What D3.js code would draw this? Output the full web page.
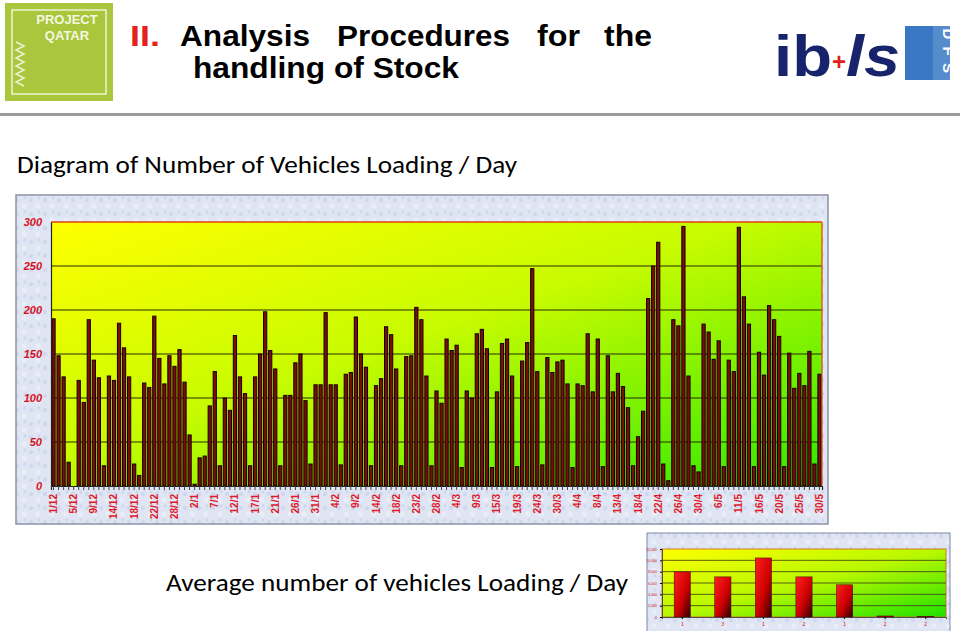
<!DOCTYPE html>
<html><head><meta charset="utf-8">
<script src="https://cdn.jsdelivr.net/npm/d3@7"></script>
<style>
html,body{margin:0;padding:0;background:#fff;}
svg{display:block;}
</style></head>
<body>
<svg id="chart" width="960" height="631"></svg>
<script>
// ---------- DATA ----------
const categories = [
"1/12","2/12","3/12","4/12","5/12","6/12","7/12","8/12","9/12","10/12","12/12","13/12",
"14/12","15/12","16/12","17/12","18/12","19/12","20/12","21/12","22/12","23/12","24/12","27/12",
"28/12","29/12","30/12","1/1","2/1","3/1","4/1","6/1","7/1","8/1","10/1","11/1",
"12/1","13/1","14/1","16/1","17/1","18/1","19/1","20/1","21/1","22/1","24/1","25/1",
"26/1","27/1","28/1","30/1","31/1","1/2","2/2","3/2","4/2","5/2","7/2","8/2",
"9/2","10/2","11/2","13/2","14/2","15/2","16/2","17/2","18/2","20/2","21/2","22/2",
"23/2","24/2","25/2","27/2","28/2","1/3","2/3","3/3","4/3","6/3","7/3","8/3",
"9/3","10/3","11/3","13/3","15/3","16/3","17/3","18/3","19/3","20/3","21/3","23/3",
"24/3","25/3","27/3","28/3","30/3","31/3","1/4","3/4","4/4","5/4","6/4","7/4",
"8/4","10/4","11/4","12/4","13/4","14/4","15/4","17/4","18/4","19/4","20/4","21/4",
"22/4","23/4","24/4","25/4","26/4","27/4","28/4","29/4","30/4","2/5","3/5","4/5",
"6/5","7/5","8/5","10/5","11/5","12/5","13/5","15/5","16/5","17/5","18/5","19/5",
"20/5","21/5","22/5","24/5","25/5","26/5","27/5","29/5","30/5"
];
const vehicles = [
190,148,124,27,0,120,95,189,143,123,23,125,
120,185,157,124,25,12,117,112,193,145,116,148,
136,155,118,58,2,32,34,91,130,23,100,86,
171,124,105,23,124,150,198,154,133,23,103,103,
140,150,97,25,115,115,197,115,115,24,127,129,
192,150,135,23,114,122,181,172,133,23,147,148,
203,189,125,23,108,94,167,154,160,21,108,100,
173,178,156,21,107,162,167,125,22,142,163,247,
130,24,146,129,141,143,116,21,116,114,173,107,
167,22,148,107,128,113,89,23,56,85,213,250,
277,25,6,189,182,295,125,23,16,184,175,144,
165,22,143,130,294,215,184,22,152,126,205,189,
170,22,151,111,128,114,153,25,127
];
const tickLabels = ["1/12","5/12","9/12","14/12","18/12","22/12","28/12","2/1","7/1","12/1",
"17/1","21/1","26/1","31/1","4/2","9/2","14/2","18/2","23/2","28/2","4/3","9/3","15/3",
"19/3","24/3","30/3","4/4","8/4","13/4","18/4","22/4","26/4","30/4","6/5","11/5","16/5",
"20/5","25/5","30/5"];
const yTicks = [0,50,100,150,200,250,300];

const avgLabels = ["1","3","1","2","1","2","2"];
const avgValues = [7960,7080,10420,7080,5680,180,100];
const avgTicks = [0,2000,4000,6000,8000,10000,12000];

// ---------- DRAW ----------
const svg = d3.select("#chart");
const defs = svg.append("defs");

const bgGrad = defs.append("linearGradient").attr("id","plotGrad")
  .attr("x1","0").attr("y1","0").attr("x2","1").attr("y2","1");
bgGrad.append("stop").attr("offset","0").attr("stop-color","#ffff00");
bgGrad.append("stop").attr("offset","0.45").attr("stop-color","#c8fb00");
bgGrad.append("stop").attr("offset","1").attr("stop-color","#2ee800");

const smallGrad = defs.append("linearGradient").attr("id","smallGrad")
  .attr("x1","0").attr("y1","0").attr("x2","1").attr("y2","1");
smallGrad.append("stop").attr("offset","0").attr("stop-color","#ffff00");
smallGrad.append("stop").attr("offset","0.5").attr("stop-color","#b8f800");
smallGrad.append("stop").attr("offset","1").attr("stop-color","#20e000");

const barGrad = defs.append("linearGradient").attr("id","barGrad")
  .attr("x1","0").attr("y1","0").attr("x2","1").attr("y2","1");
barGrad.append("stop").attr("offset","0").attr("stop-color","#ff2020");
barGrad.append("stop").attr("offset","0.55").attr("stop-color","#d00000");
barGrad.append("stop").attr("offset","1").attr("stop-color","#300000");

const tex = defs.append("pattern").attr("id","tex").attr("patternUnits","userSpaceOnUse")
  .attr("width",14).attr("height",14);
tex.append("rect").attr("width",14).attr("height",14).attr("fill","#dfe5f3");
tex.append("circle").attr("cx",3).attr("cy",4).attr("r",2.2).attr("fill","#d0d8ee");
tex.append("circle").attr("cx",10).attr("cy",10).attr("r",2.6).attr("fill","#e9edf8");
tex.append("circle").attr("cx",11).attr("cy",2).attr("r",1.4).attr("fill","#cfd6ea");

// ----- header -----
const logo = svg.append("g");
logo.append("rect").attr("x",5).attr("y",3).attr("width",108).attr("height",98).attr("fill","#a9c63c");
logo.append("path").attr("d","M12 10 L106 10 L106 94 L12 94 Z").attr("fill","none").attr("stroke","#eef3d4").attr("stroke-width",1.5);
logo.append("path").attr("d","M16 42 L24 46 L16 50 L24 54 L16 58 L24 62 L16 66 L24 70 L16 74 L24 78 L16 82 L24 86")
  .attr("fill","none").attr("stroke","#eef3d4").attr("stroke-width",1.5);
logo.append("text").attr("x",67).attr("y",24).attr("text-anchor","middle")
  .attr("font-family","Liberation Sans Narrow, Liberation Sans, sans-serif").attr("font-weight","bold")
  .attr("font-size",13).attr("fill","#f4f7e0").text("PROJECT");
logo.append("text").attr("x",67).attr("y",40).attr("text-anchor","middle")
  .attr("font-family","Liberation Sans Narrow, Liberation Sans, sans-serif").attr("font-weight","bold")
  .attr("font-size",13).attr("fill","#f4f7e0").text("QATAR");

const titleFont = "Liberation Sans Narrow, Liberation Sans, Arial, sans-serif";
const titleWords = [
  {t:"II.", x:130, w:30, y:46, c:"#e4211b"},
  {t:"Analysis", x:180, w:130, y:46, c:"#000"},
  {t:"Procedures", x:337, w:173, y:46, c:"#000"},
  {t:"for", x:537, w:43, y:46, c:"#000"},
  {t:"the", x:604, w:48, y:46, c:"#000"},
  {t:"handling of Stock", x:193, w:266, y:78, c:"#000"}
];
svg.selectAll("text.title").data(titleWords).enter().append("text")
  .attr("class","title").attr("x",d=>d.x).attr("y",d=>d.y)
  .attr("font-family",titleFont).attr("font-weight","bold").attr("font-size",30)
  .attr("fill",d=>d.c).attr("textLength",d=>d.w).attr("lengthAdjust","spacingAndGlyphs")
  .text(d=>d.t);

// right logo
const rl = svg.append("g");
rl.append("text").attr("x",774).attr("y",76).attr("font-family","Liberation Sans, Arial, sans-serif")
  .attr("font-weight","bold").attr("font-size",58).attr("fill","#17236b")
  .attr("textLength",58).attr("lengthAdjust","spacingAndGlyphs").text("ib");
rl.append("text").attr("x",832).attr("y",70).attr("font-family","Liberation Sans, Arial, sans-serif")
  .attr("font-weight","bold").attr("font-size",24).attr("fill","#e02020").text("+");
rl.append("text").attr("x",846).attr("y",76).attr("font-family","Liberation Sans, Arial, sans-serif")
  .attr("font-weight","bold").attr("font-style","italic").attr("font-size",58).attr("fill","#17236b")
  .attr("textLength",54).attr("lengthAdjust","spacingAndGlyphs").text("ls");
rl.append("rect").attr("x",905).attr("y",26).attr("width",45).attr("height",54).attr("fill","#3a78c4");
rl.append("rect").attr("x",933).attr("y",26).attr("width",17).attr("height",54).attr("fill","#ffffff").attr("opacity",0.15);
["D","F","S"].forEach((ch,i)=>{
  rl.append("text").attr("x",943).attr("y",34+i*17).attr("text-anchor","middle")
    .attr("transform",`rotate(90,943,${34+i*17})`)
    .attr("font-family","Liberation Sans, Arial, sans-serif").attr("font-weight","bold")
    .attr("font-size",15).attr("fill","#fff").text(ch);
});

svg.append("rect").attr("x",0).attr("y",113).attr("width",960).attr("height",3).attr("fill","#9a9a9a");

svg.append("text").attr("x",17).attr("y",173)
  .attr("font-family","Carlito, Lato, Open Sans, sans-serif").attr("font-size",24).attr("fill","#000")
  .attr("textLength",500).attr("lengthAdjust","spacingAndGlyphs")
  .text("Diagram of Number of Vehicles Loading / Day");

// ----- main chart -----
svg.append("rect").attr("x",16).attr("y",195).attr("width",812).attr("height",329)
  .attr("fill","url(#tex)").attr("stroke","#8d92a4").attr("stroke-width",1.5);

const m = {left:51, right:822, top:222, bottom:486};
const x = d3.scaleBand().domain(categories).range([m.left, m.right]).paddingInner(0.36).paddingOuter(0.18);
const y = d3.scaleLinear().domain([0,300]).range([m.bottom, m.top]);

svg.append("rect").attr("x",m.left).attr("y",m.top).attr("width",m.right-m.left).attr("height",m.bottom-m.top)
  .attr("fill","url(#plotGrad)");

// gridlines
svg.append("g").selectAll("line").data(yTicks.filter(t=>t>0 && t<300)).enter().append("line")
  .attr("x1",m.left).attr("x2",m.right).attr("y1",d=>y(d)).attr("y2",d=>y(d))
  .attr("stroke","#2a2a10").attr("stroke-width",1.2);

// bars
svg.append("g").selectAll("rect").data(vehicles).enter().append("rect")
  .attr("x",(d,i)=>x(categories[i]))
  .attr("width",x.bandwidth())
  .attr("y",d=>y(d))
  .attr("height",d=>y(0)-y(d))
  .attr("fill","#7a0d0d").attr("stroke","#140000").attr("stroke-width",1);

// top & right frame
svg.append("line").attr("x1",m.left).attr("x2",m.right).attr("y1",m.top).attr("y2",m.top)
  .attr("stroke","#e04010").attr("stroke-width",1.5);
svg.append("line").attr("x1",m.right).attr("x2",m.right).attr("y1",m.top).attr("y2",m.bottom)
  .attr("stroke","#e04010").attr("stroke-width",1.2);

// y axis
const yAxis = d3.axisLeft(y).tickValues(yTicks).tickSize(0).tickPadding(9);
const yg = svg.append("g").attr("transform",`translate(${m.left},0)`).call(yAxis);
yg.select(".domain").attr("stroke","#222").attr("stroke-width",1.2);
yg.selectAll("text").attr("font-family","Liberation Sans, Arial, sans-serif").attr("font-weight","bold")
  .attr("font-style","italic").attr("font-size",11).attr("fill","#d81020");

// x axis
const xAxis = d3.axisBottom(x).tickSize(4).tickPadding(3)
  .tickFormat(d=>tickLabels.includes(d)?d:"");
const xg = svg.append("g").attr("transform",`translate(0,${m.bottom})`).call(xAxis);
xg.select(".domain").attr("stroke","#222").attr("stroke-width",1.2);
xg.selectAll(".tick line").attr("stroke","#444");
xg.selectAll("text").attr("font-family","Liberation Sans, Arial, sans-serif").attr("font-weight","bold")
  .attr("font-size",10).attr("fill","#e01a2a")
  .attr("text-anchor","end").attr("transform","rotate(-90)")
  .attr("x",-8).attr("y",0).attr("dy","0.35em");

// ----- caption -----
svg.append("text").attr("x",166).attr("y",591)
  .attr("font-family","Carlito, Lato, Open Sans, sans-serif").attr("font-size",24).attr("fill","#000")
  .attr("textLength",462).attr("lengthAdjust","spacingAndGlyphs")
  .text("Average number of vehicles Loading / Day");

// ----- small chart -----
svg.append("rect").attr("x",647).attr("y",533).attr("width",303).attr("height",100)
  .attr("fill","url(#tex)").attr("stroke","#7f8aa8").attr("stroke-width",1);
const sm = {left:662, right:946, top:549, bottom:617};
const sx = d3.scaleBand().domain(d3.range(avgValues.length)).range([sm.left, sm.right]).paddingInner(0.6).paddingOuter(0.3);
const sy = d3.scaleLinear().domain([0,12000]).range([sm.bottom, sm.top]);
svg.append("rect").attr("x",sm.left).attr("y",sm.top).attr("width",sm.right-sm.left).attr("height",sm.bottom-sm.top)
  .attr("fill","url(#smallGrad)").attr("stroke","#d06010").attr("stroke-width",0.8);
svg.append("g").selectAll("line").data(avgTicks.filter(t=>t>0 && t<12000)).enter().append("line")
  .attr("x1",sm.left).attr("x2",sm.right).attr("y1",d=>sy(d)).attr("y2",d=>sy(d))
  .attr("stroke","#3a3a10").attr("stroke-width",0.8);
svg.append("g").selectAll("rect").data(avgValues).enter().append("rect")
  .attr("x",(d,i)=>sx(i)).attr("width",sx.bandwidth())
  .attr("y",d=>sy(d)).attr("height",d=>sy(0)-sy(d))
  .attr("fill","url(#barGrad)").attr("stroke","#400000").attr("stroke-width",0.5);
const sya = svg.append("g").attr("transform",`translate(${sm.left},0)`)
  .call(d3.axisLeft(sy).tickValues(avgTicks).tickSize(2).tickFormat(d3.format(",")));
sya.select(".domain").attr("stroke","#333").attr("stroke-width",0.8);
sya.selectAll("text").attr("font-family","Liberation Sans, Arial, sans-serif").attr("font-size",3.5).attr("fill","#d01020");
const sxa = svg.append("g").attr("transform",`translate(0,${sm.bottom})`)
  .call(d3.axisBottom(sx).tickSize(2).tickFormat(i=>avgLabels[i]));
sxa.select(".domain").attr("stroke","#333").attr("stroke-width",0.8);
sxa.selectAll("text").attr("font-family","Liberation Sans, Arial, sans-serif").attr("font-size",5).attr("fill","#d01020");
</script>
</body></html>
